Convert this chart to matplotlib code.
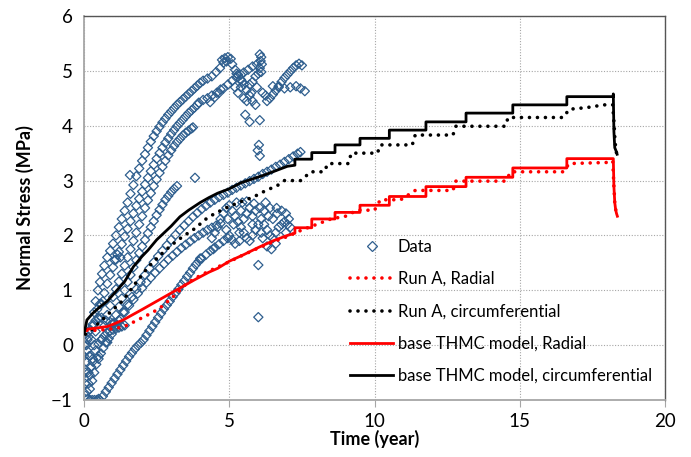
import matplotlib
matplotlib.use("Agg")
import matplotlib.pyplot as plt
from matplotlib.lines import Line2D

plt.rcParams['font.family'] = ['Lato', 'DejaVu Sans']

# ---- measured stress data (time in years, stress in MPa), grouped by sensor trace ----
data_bottom = [(0.05, -0.92), (0.12, -0.98), (0.2, -1.0), (0.28, -1.0), (0.36, -1.0),
               (0.44, -1.0), (0.5, -0.98)]
data_early = [(0.03, -0.7), (0.05, -0.5), (0.07, -0.3), (0.1, -0.1), (0.12, 0.1), (0.15, 0.25),
              (0.1, -0.85), (0.15, -0.7), (0.2, -0.55), (0.25, -0.4), (0.3, -0.25), (0.4, -0.1),
              (0.5, 0.02), (0.6, 0.1), (0.7, 0.17), (0.8, 0.22), (0.9, 0.26), (1.0, 0.28),
              (1.1, 0.3), (1.2, 0.32), (1.3, 0.34), (1.4, 0.36),
              (0.08, 0.0), (0.15, 0.15), (0.22, 0.28), (0.3, 0.38), (0.4, 0.45), (0.5, 0.48),
              (0.6, 0.5), (0.75, 0.45), (0.9, 0.42), (1.05, 0.4),
              (0.2, -0.8), (0.28, -0.65), (0.35, -0.5), (0.42, -0.35), (0.5, -0.25),
              (0.58, -0.15), (0.66, -0.05), (0.75, 0.05), (0.85, 0.12),
              (0.0, -0.2), (0.02, 0.0), (0.04, 0.2), (0.06, -0.45), (0.18, -0.2),
              (0.45, 0.65), (0.55, 0.75), (0.65, 0.8), (1.05, 1.55), (1.15, 1.65),
              (1.25, 1.6)]
data_u1 = [(0.15, -0.5), (0.2, -0.2), (0.25, 0.1), (0.3, 0.35), (0.35, 0.6), (0.4, 0.8),
           (0.48, 1.0), (0.55, 1.15), (0.62, 1.3), (0.7, 1.45), (0.8, 1.6), (0.9, 1.72),
           (1.0, 1.85), (1.1, 2.0), (1.2, 2.15), (1.3, 2.3), (1.4, 2.45), (1.5, 2.6),
           (1.6, 2.76), (1.7, 2.92), (1.8, 3.08), (1.9, 3.22), (2.0, 3.36), (2.1, 3.48),
           (2.2, 3.6), (2.3, 3.71), (2.4, 3.81), (2.5, 3.9), (2.6, 3.98), (2.7, 4.06),
           (2.8, 4.13), (2.9, 4.2), (3.0, 4.26), (3.1, 4.32), (3.2, 4.38), (3.3, 4.43),
           (3.4, 4.48), (3.5, 4.53), (3.6, 4.58), (3.7, 4.63), (3.8, 4.68), (3.9, 4.73),
           (4.0, 4.78), (4.1, 4.82)]
data_u2 = [(0.3, -0.3), (0.35, 0.0), (0.4, 0.25), (0.5, 0.5), (0.6, 0.75), (0.7, 0.95),
           (0.8, 1.12), (0.9, 1.28), (1.0, 1.42), (1.1, 1.56), (1.2, 1.7), (1.3, 1.84),
           (1.4, 1.98), (1.5, 2.12), (1.6, 2.26), (1.7, 2.4), (1.8, 2.54), (1.9, 2.67),
           (2.0, 2.8), (2.1, 2.93), (2.2, 3.05), (2.3, 3.17), (2.4, 3.29), (2.5, 3.4),
           (2.6, 3.5), (2.7, 3.6), (2.8, 3.69), (2.9, 3.77), (3.0, 3.85), (3.1, 3.92),
           (3.2, 3.99), (3.3, 4.05), (3.4, 4.11), (3.5, 4.17), (3.6, 4.23), (3.7, 4.28),
           (3.8, 4.33), (3.9, 4.38), (3.95, 4.42)]
data_u3 = [(0.5, -0.2), (0.6, 0.1), (0.7, 0.35), (0.8, 0.55), (0.9, 0.72), (1.0, 0.88),
           (1.1, 1.02), (1.2, 1.16), (1.3, 1.3), (1.4, 1.45), (1.5, 1.6), (1.6, 1.75),
           (1.7, 1.9), (1.8, 2.05), (1.9, 2.2), (2.0, 2.35), (2.1, 2.5), (2.2, 2.64),
           (2.3, 2.77), (2.4, 2.9), (2.5, 3.02), (2.6, 3.14), (2.7, 3.25), (2.8, 3.36),
           (2.9, 3.46), (3.0, 3.55), (3.1, 3.63), (3.2, 3.7), (3.3, 3.76), (3.4, 3.82),
           (3.5, 3.87), (3.6, 3.91), (3.7, 3.95), (3.75, 3.97)]
data_u4 = [(1.0, 0.4), (1.1, 0.55), (1.2, 0.7), (1.3, 0.85), (1.4, 1.0), (1.5, 1.15),
           (1.6, 1.28), (1.7, 1.42), (1.8, 1.55), (1.9, 1.68), (2.0, 1.8), (2.1, 1.92),
           (2.2, 2.04), (2.3, 2.15), (2.4, 2.26), (2.5, 2.37), (2.6, 2.47), (2.7, 2.56),
           (2.8, 2.65), (2.9, 2.72), (3.0, 2.79), (3.1, 2.85), (3.2, 2.9)]
data_top = [(4.75, 5.2), (4.85, 5.23), (4.95, 5.25), (5.05, 5.22), (4.8, 5.15), (4.9, 5.17),
            (5.1, 5.12), (5.2, 5.02), (5.3, 4.93), (5.4, 4.84), (5.5, 4.75), (5.6, 4.65),
            (5.7, 4.55), (5.8, 4.45), (5.9, 4.38), (5.25, 4.95), (5.45, 4.8),
            (4.25, 4.86), (4.4, 4.9), (4.55, 4.98), (4.68, 5.05),
            (4.1, 4.47), (4.25, 4.5), (4.4, 4.55), (4.57, 4.6), (4.7, 4.66),
            (4.34, 4.43), (4.5, 4.52), (4.65, 4.6), (4.8, 4.68), (4.95, 4.75), (5.1, 4.82),
            (5.25, 4.88), (5.4, 4.93), (5.5, 4.97), (5.65, 5.02), (5.8, 5.08), (5.95, 5.12),
            (6.05, 5.3), (6.1, 5.25), (6.08, 5.18), (6.12, 5.12), (6.05, 5.05), (6.1, 4.98),
            (6.3, 4.45), (6.4, 4.5), (6.5, 4.57), (6.6, 4.64), (6.7, 4.72), (6.8, 4.8),
            (6.9, 4.87), (7.0, 4.93), (7.1, 4.99), (7.2, 5.05), (7.3, 5.1), (7.4, 5.13),
            (7.5, 5.1), (6.5, 4.72), (6.7, 4.7), (6.9, 4.68), (7.1, 4.7), (7.3, 4.72),
            (7.45, 4.68), (7.6, 4.63), (5.3, 4.6), (5.5, 4.5), (5.6, 4.45), (5.2, 4.7),
            (5.4, 4.7), (5.7, 4.75), (5.8, 4.8), (5.9, 4.9), (6.0, 4.95), (5.75, 4.6),
            (5.95, 4.7), (6.15, 4.6), (6.25, 4.55), (5.7, 4.07), (6.05, 4.1), (5.55, 4.2)]
data_m1 = [(1.2, 0.45), (1.35, 0.6), (1.5, 0.74), (1.65, 0.88), (1.8, 1.02), (1.95, 1.15),
           (2.1, 1.28), (2.25, 1.4), (2.4, 1.51), (2.55, 1.62), (2.7, 1.72), (2.85, 1.82),
           (3.0, 1.92), (3.15, 2.01), (3.3, 2.1), (3.45, 2.18), (3.6, 2.26), (3.75, 2.34),
           (3.9, 2.41), (4.05, 2.48), (4.2, 2.54), (4.35, 2.6), (4.5, 2.65), (4.65, 2.7),
           (4.8, 2.74), (4.95, 2.78), (5.1, 2.83), (5.25, 2.87), (5.4, 2.91), (5.55, 2.95),
           (5.7, 2.99), (5.85, 3.03), (6.0, 3.07), (6.15, 3.12), (6.3, 3.16), (6.45, 3.2),
           (6.6, 3.25), (6.75, 3.29), (6.9, 3.34), (7.05, 3.39), (7.2, 3.44), (7.35, 3.49),
           (7.45, 3.52)]
data_m2 = [(0.8, 0.05), (0.95, 0.2), (1.1, 0.35), (1.25, 0.48), (1.4, 0.6), (1.55, 0.72),
           (1.7, 0.83), (1.85, 0.94), (2.0, 1.04), (2.15, 1.14), (2.3, 1.23), (2.45, 1.32),
           (2.6, 1.4), (2.75, 1.48), (2.9, 1.56), (3.05, 1.63), (3.2, 1.7), (3.35, 1.77),
           (3.5, 1.83), (3.65, 1.89), (3.8, 1.95), (3.95, 2.0), (4.1, 2.05), (4.25, 2.1),
           (4.4, 2.14), (4.55, 2.18), (4.7, 2.22)]
data_low = [(0.55, -1.0), (0.65, -0.93), (0.75, -0.85), (0.85, -0.77), (0.95, -0.69),
            (1.05, -0.61), (1.15, -0.53), (1.25, -0.45), (1.35, -0.37), (1.45, -0.29),
            (1.55, -0.21), (1.65, -0.14), (1.75, -0.07), (1.85, -0.01), (1.95, 0.04),
            (2.05, 0.1), (2.15, 0.18), (2.25, 0.26), (2.35, 0.34), (2.45, 0.42), (2.55, 0.5),
            (2.65, 0.58), (2.75, 0.66), (2.85, 0.73), (2.95, 0.8), (3.05, 0.88), (3.15, 0.95),
            (3.25, 1.02), (3.35, 1.1), (3.45, 1.17), (3.55, 1.25), (3.65, 1.32), (3.75, 1.4),
            (3.85, 1.47), (3.95, 1.53), (4.05, 1.58), (4.2, 1.65), (4.35, 1.72), (4.5, 1.78),
            (4.65, 1.84), (4.8, 1.9), (4.95, 1.95)]
data_blob = [(4.4, 1.95), (4.5, 2.05), (4.6, 2.15), (4.7, 2.3), (4.8, 2.4), (4.9, 2.5),
             (5.0, 2.55), (5.1, 2.45), (5.2, 2.35), (5.3, 2.25), (5.4, 2.15), (5.5, 2.05),
             (5.6, 1.95), (5.7, 1.9), (5.8, 2.0), (5.9, 2.1), (6.0, 2.2), (6.1, 2.3),
             (6.2, 2.2), (6.3, 2.1), (6.4, 2.0), (6.5, 1.95), (6.6, 2.05), (6.7, 2.15),
             (6.8, 2.2), (6.9, 2.25), (7.0, 2.2), (7.1, 2.15), (4.9, 2.1), (5.0, 2.0),
             (5.1, 1.92), (5.2, 1.85), (5.35, 1.9), (5.5, 2.3), (5.6, 2.4), (5.7, 2.5),
             (5.8, 2.35), (5.9, 2.45), (6.05, 2.5), (6.2, 2.45), (6.35, 2.35), (6.5, 2.3),
             (6.65, 2.4), (6.8, 2.45), (6.95, 2.4), (5.25, 2.6), (5.45, 2.6), (6.15, 1.95),
             (6.3, 1.8), (6.45, 1.75), (6.6, 1.85), (4.95, 2.3), (5.15, 2.2), (5.35, 2.05),
             (5.8, 2.2), (6.1, 2.05), (6.95, 2.05), (7.05, 2.3), (5.4, 2.45), (5.6, 2.62),
             (5.85, 2.58), (6.25, 2.6), (6.4, 2.5)]
data_isolated = [(1.58, 3.1), (3.82, 3.05), (6.02, 3.65), (5.98, 3.55), (6.05, 3.45),
                 (6.63, 2.5), (6.0, 1.46), (6.0, 0.51), (4.45, 1.75), (4.0, 1.58)]

# ---- model results ----
# base THMC model, circumferential (solid black)
base_circ_t = [0.0, 0.03, 0.1, 0.3, 0.55, 0.8, 1.0, 1.2, 1.4, 1.7, 2.0, 2.2, 2.5, 2.8, 3.0,
               3.3, 3.6, 4.0, 4.3, 4.6, 5.0, 5.4, 5.8, 6.2, 6.6, 7.0, 7.26, 7.26, 7.84, 7.84,
               8.64, 8.64, 9.5, 9.5, 10.51, 10.51, 11.77, 11.77, 13.15, 13.15, 14.76, 14.76,
               16.62, 16.62, 18.22, 18.22, 18.24, 18.27, 18.3, 18.33, 18.35]
base_circ_v = [0.22, 0.28, 0.46, 0.58, 0.7, 0.8, 0.92, 1.04, 1.16, 1.43, 1.62, 1.73, 1.92,
               2.07, 2.17, 2.34, 2.46, 2.6, 2.69, 2.77, 2.85, 2.96, 3.03, 3.1, 3.18, 3.26,
               3.28, 3.39, 3.39, 3.51, 3.51, 3.65, 3.65, 3.77, 3.77, 3.92, 3.92, 4.07, 4.07,
               4.23, 4.23, 4.38, 4.38, 4.53, 4.53, 4.58, 3.9, 3.6, 3.56, 3.52, 3.48]
# base THMC model, radial (solid red)
base_rad_t = [0.0, 0.1, 0.4, 0.8, 1.0, 1.35, 2.0, 2.5, 3.0, 3.3, 3.8, 4.3, 4.6, 5.0, 5.5,
              6.0, 6.5, 7.0, 7.26, 7.26, 7.84, 7.84, 8.64, 8.64, 9.5, 9.5, 10.51, 10.51,
              11.77, 11.77, 13.15, 13.15, 14.76, 14.76, 16.62, 16.62, 18.22, 18.24, 18.27,
              18.3, 18.33, 18.36]
base_rad_v = [0.25, 0.29, 0.31, 0.34, 0.38, 0.46, 0.65, 0.8, 0.95, 1.04, 1.19, 1.33, 1.4,
              1.53, 1.65, 1.78, 1.9, 2.0, 2.04, 2.14, 2.14, 2.3, 2.3, 2.42, 2.42, 2.55, 2.55,
              2.71, 2.71, 2.89, 2.89, 3.06, 3.06, 3.23, 3.23, 3.4, 3.4, 2.9, 2.6, 2.47, 2.4,
              2.35]
# Run A, circumferential (dotted black)
runa_circ_t = [0.05, 0.3, 0.8, 1.35, 1.8, 2.2, 2.6, 3.0, 3.4, 3.8, 4.2, 4.5, 5.0, 5.37,
               5.83, 6.3, 6.63, 6.9, 7.47, 7.8, 8.26, 8.4, 9.1, 9.2, 10.1, 10.2, 11.3, 11.4,
               12.7, 12.8, 14.5, 14.6, 16.5, 16.7, 17.3, 17.9, 18.2, 18.25, 18.28, 18.33,
               18.36]
runa_circ_v = [0.2, 0.3, 0.55, 0.82, 1.15, 1.42, 1.63, 1.82, 1.98, 2.12, 2.3, 2.4, 2.53,
               2.61, 2.7, 2.83, 2.9, 3.0, 3.0, 3.16, 3.16, 3.31, 3.31, 3.5, 3.5, 3.65, 3.65,
               3.83, 3.83, 3.99, 3.99, 4.15, 4.15, 4.3, 4.33, 4.38, 4.38, 4.0, 3.7, 3.5,
               3.45]
# Run A, radial (dotted red)
runa_rad_t = [0.1, 0.5, 1.0, 1.35, 1.7, 2.0, 2.3, 2.6, 3.0, 3.3, 3.54, 4.0, 4.5, 5.0, 5.5,
              6.0, 6.5, 7.0, 7.5, 8.0, 8.5, 9.0, 9.4, 10.0, 10.2, 10.9, 11.4, 12.7, 12.8,
              14.5, 14.7, 16.5, 16.7, 18.0, 18.2, 18.24, 18.27, 18.31, 18.35]
runa_rad_v = [0.27, 0.27, 0.3, 0.33, 0.42, 0.5, 0.58, 0.67, 0.85, 1.0, 1.13, 1.27, 1.4,
              1.52, 1.65, 1.77, 1.88, 1.98, 2.1, 2.2, 2.3, 2.35, 2.46, 2.46, 2.65, 2.65,
              2.82, 2.82, 2.99, 2.99, 3.16, 3.16, 3.31, 3.33, 3.36, 2.9, 2.6, 2.45, 2.35]

all_data = (data_bottom + data_early + data_u1 + data_u2 + data_u3 + data_u4 + data_top
            + data_m1 + data_m2 + data_low + data_blob + data_isolated)
data_t = [p[0] for p in all_data]
data_v = [p[1] for p in all_data]

blue = '#2E5E8E'
dot_style = (0, (0.01, 2.2))

fig = plt.figure(figsize=(6.91, 4.57), dpi=100)
ax = fig.add_axes([0.1216, 0.1247, 0.8408, 0.8403])

ax.scatter(data_t, data_v, marker='D', s=22, facecolors='none', edgecolors=blue,
           linewidths=0.9, zorder=2)
ax.plot(runa_rad_t, runa_rad_v, color='#ff0000', lw=2.6, linestyle=dot_style,
        dash_capstyle='round', zorder=3)
ax.plot(runa_circ_t, runa_circ_v, color='black', lw=2.6, linestyle=dot_style,
        dash_capstyle='round', zorder=3)
ax.plot(base_rad_t, base_rad_v, color='#ff0000', lw=2.0, zorder=4)
ax.plot(base_circ_t, base_circ_v, color='black', lw=2.0, zorder=4)

ax.set_xlim(0, 20)
ax.set_ylim(-1, 6)
ax.set_xticks([0, 5, 10, 15, 20])
ax.set_yticks(range(-1, 7))
ax.grid(True, color='#a6a6a6', linestyle=(0, (1, 1.5)), linewidth=0.8)
ax.set_axisbelow(True)

for side in ['left', 'bottom']:
    ax.spines[side].set_color('#a6a6a6')
    ax.spines[side].set_linewidth(1.3)
for side in ['top', 'right']:
    ax.spines[side].set_color('#555555')
    ax.spines[side].set_linewidth(1.0)
ax.tick_params(axis='x', direction='out', length=5, color='#a6a6a6', labelsize=13.5, pad=4)
ax.tick_params(axis='y', direction='out', length=0, color='#a6a6a6', labelsize=13.5, pad=8)

ax.set_xlabel('Time (year)', fontsize=13, fontweight='bold', labelpad=0)
ax.set_ylabel('Normal Stress (MPa)', fontsize=13, fontweight='bold', labelpad=12)

handles = [
    Line2D([], [], marker='D', linestyle='none', markersize=4.7, markerfacecolor='none',
           markeredgecolor=blue, markeredgewidth=0.9),
    Line2D([], [], color='#ff0000', lw=2.6, linestyle=dot_style, dash_capstyle='round'),
    Line2D([], [], color='black', lw=2.6, linestyle=dot_style, dash_capstyle='round'),
    Line2D([], [], color='#ff0000', lw=2.0),
    Line2D([], [], color='black', lw=2.0),
]
labels = ['Data', 'Run A, Radial', 'Run A, circumferential', 'base THMC model, Radial',
          'base THMC model, circumferential']
ax.legend(handles, labels, loc='upper left', bbox_to_anchor=(0.458, 0.42), frameon=False,
          fontsize=12, handlelength=2.6, handletextpad=0.25, labelspacing=0.98,
          borderpad=0, borderaxespad=0)

fig.savefig('out.png', dpi=100)
